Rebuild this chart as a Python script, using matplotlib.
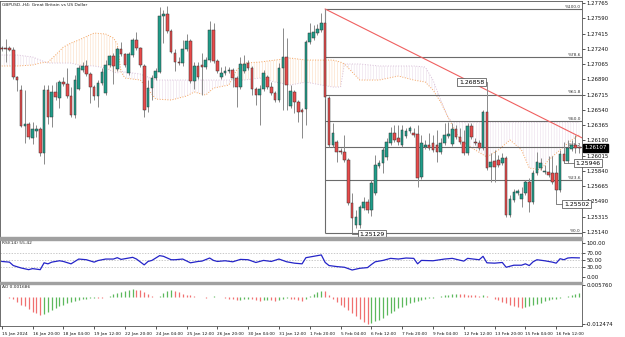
import numpy as np
import matplotlib.pyplot as plt
from matplotlib.patches import Rectangle
from matplotlib.transforms import blended_transform_factory

# GBPUSD H4 candles, prices in points (1 pt = 0.00001)
opens = [127249, 127249, 127249, 127226, 126917, 126768, 126355, 126378, 126218, 126298,
         126321, 126046, 126768, 126458, 126745, 126676, 126859, 126836, 126699, 126481,
         126779, 126997, 127043, 126951, 126802, 126699, 126848, 126733, 127054, 127157,
         127008, 127237, 127180, 126962, 127169, 127341, 127249, 127043, 126573, 126790,
         126905, 126974, 127616, 127639, 127444, 127192, 127088, 127077, 127237, 127329,
         126871, 127043, 127054, 127031, 127111, 127455, 127100, 126917, 126962, 126985,
         126997, 126905, 126802, 126985, 127077, 127020, 126779, 126710, 126779, 126917,
         126802, 126733, 126653, 127020, 127146, 126584, 126745, 126630, 126538, 126550,
         127318, 127364, 127421, 127455, 127535, 126676, 126137, 126172, 126069, 126057,
         125965, 125473, 125221, 125221, 125415, 125484, 125392, 125587, 125897, 125931,
         126000, 126160, 126275, 126218, 126137, 126240, 126298, 126275, 126263, 125771,
         126114, 126137, 126160, 126137, 126057, 126160, 126240, 126149, 126321, 126229,
         126172, 126046, 126355, 126172, 126160, 126103, 126515, 125885, 125954, 125965,
         125931, 125988, 125335, 125507, 125587, 125518, 125587, 125713, 125484, 125816,
         125874, 125828, 125828, 125816, 125816, 125622, 126034, 125954, 126091, 126137, 126114]
highs = [127272, 127352, 127272, 127260, 126928, 126825, 126768, 126401, 126401, 126366,
         126344, 126825, 126825, 126825, 126859, 126882, 126917, 127020, 126802, 126940,
         127054, 127088, 127111, 126974, 126825, 126882, 127020, 127111, 127169, 127192,
         127260, 127318, 127192, 127203, 127364, 127432, 127260, 127066, 126882, 126940,
         127020, 127719, 127684, 127730, 127467, 127237, 127146, 127341, 127409, 127352,
         127088, 127088, 127192, 127146, 127558, 127535, 127123, 127031, 127043, 127031,
         127020, 126928, 127146, 127169, 127111, 127043, 126802, 126825, 126997, 126940,
         126859, 126756, 127077, 127478, 127364, 126825, 126768, 126653, 126561, 127341,
         127535, 127512, 127524, 127650, 127696, 126699, 126389, 126195, 126103, 126252,
         125988, 125587, 125392, 125450, 125541, 125518, 125736, 126023, 125965, 126114,
         126218, 126344, 126366, 126366, 126366, 126332, 126355, 126332, 126366, 126252,
         126195, 126275, 126252, 126309, 126218, 126389, 126401, 126389, 126366, 126332,
         126309, 126389, 126389, 126218, 126195, 126538, 126858, 126046, 126080, 126023,
         126046, 126011, 125564, 125633, 125633, 125656, 125736, 125759, 125851, 126057,
         125988, 125908, 126011, 126011, 125908, 126080, 126172, 126195, 126195, 126252, 126126]
lows = [127215, 127088, 127215, 126894, 126756, 126344, 126160, 126206, 126149, 126229,
        126011, 125920, 126378, 126344, 126653, 126561, 126813, 126676, 126458, 126447,
        126768, 126974, 126928, 126619, 126653, 126573, 126825, 126710, 127031, 126836,
        126985, 127157, 127031, 126940, 127146, 127226, 127031, 126458, 126515, 126653,
        126882, 126962, 127306, 127421, 127192, 126985, 127054, 127043, 127215, 126848,
        126779, 126894, 126710, 127008, 127088, 127077, 126962, 126894, 126940, 126962,
        126802, 126573, 126779, 126962, 126997, 126710, 126596, 126366, 126756, 126779,
        126710, 126630, 126630, 126538, 126538, 126561, 126504, 126401, 126218, 126366,
        127295, 127341, 127398, 127432, 126664, 126114, 126114, 125943, 126034, 125943,
        125450, 125129, 125186, 125186, 125392, 125358, 125324, 125564, 125874, 125816,
        125965, 126137, 126172, 126137, 126114, 126218, 126275, 126229, 125656, 125748,
        126091, 126080, 126057, 125943, 126034, 126137, 126218, 126126, 126206, 126149,
        126023, 126023, 126206, 126137, 126080, 126080, 125851, 125713, 125713, 125885,
        125908, 125312, 125312, 125484, 125564, 125427, 125564, 125370, 125461, 125794,
        125851, 125805, 125771, 125690, 125502, 125599, 125946, 125931, 126069, 126046, 126046]
closes = [127237, 127237, 127226, 126917, 126882, 126355, 126378, 126229, 126321, 126321,
          126046, 126768, 126458, 126745, 126687, 126859, 126836, 126699, 126481, 126882,
          127020, 127043, 126951, 126802, 126699, 126848, 126974, 127054, 127157, 127043,
          127237, 127180, 127054, 127180, 127341, 127249, 127054, 126538, 126790, 126905,
          126985, 127616, 127639, 127444, 127203, 127088, 127077, 127237, 127329, 126871,
          127043, 126917, 127031, 127111, 127455, 127100, 126985, 126962, 126985, 126997,
          126905, 126802, 127066, 127066, 127020, 126779, 126710, 126779, 126962, 126802,
          126733, 126653, 127020, 127146, 126825, 126756, 126630, 126515, 126515, 127318,
          127421, 127432, 127467, 127535, 126687, 126137, 126275, 126057, 126057, 125965,
          125473, 125301, 125312, 125427, 125484, 125392, 125702, 125908, 125931, 126080,
          126172, 126275, 126195, 126172, 126309, 126298, 126332, 126252, 125759, 126160,
          126137, 126103, 126080, 126057, 126160, 126252, 126263, 126321, 126229, 126172,
          126046, 126355, 126229, 126160, 126103, 126515, 125874, 125943, 125885, 125908,
          125988, 125335, 125518, 125599, 125610, 125576, 125713, 125484, 125816, 125943,
          125931, 125839, 125794, 125713, 125622, 126034, 125954, 126103, 126137, 126103, 126107]

time_labels = ['15 Jan 2024', '16 Jan 20:00', '18 Jan 04:00', '19 Jan 12:00', '22 Jan 20:00',
               '24 Jan 04:00', '25 Jan 12:00', '26 Jan 20:00', '30 Jan 04:00', '31 Jan 12:00',
               '1 Feb 20:00', '5 Feb 04:00', '6 Feb 12:00', '7 Feb 20:00', '9 Feb 04:00',
               '12 Feb 12:00', '13 Feb 20:00', '15 Feb 04:00', '16 Feb 12:00']
price_ticks = [1.27765 - 0.00175 * k for k in range(16)]

# ichimoku cloud edges (points)
cloud_idx = [0, 4, 8, 10, 12, 14, 16, 18, 20, 24, 27, 29, 30, 31, 32, 36, 40, 44, 48, 50,
             53, 55, 59, 61, 63, 67, 71, 75, 79, 83, 86, 88, 89, 91, 93, 98, 103, 107, 110, 112,
             114, 116, 117, 119, 123, 126, 129, 132, 135, 137, 140, 142, 145, 148, 150]
span_a = [127043, 127043, 127054, 127077, 127088, 127169, 127260, 127306, 127341, 127421,
          127409, 127364, 127295, 126974, 126905, 126882, 126664, 126653, 126699, 126745,
          126710, 126790, 126825, 126997, 127077, 127088, 127111, 127134, 127111, 127111,
          127111, 127088, 127066, 126974, 126882, 126882, 126928, 126882, 126859, 126768,
          126630, 126447, 126366, 126195, 126080, 126000, 126080, 126195, 126080, 125874,
          125851, 125965, 126080, 126195, 126252]
span_b = [127169, 127169, 127146, 127111, 127077, 127077, 127077, 127077, 127054, 127043,
          127020, 126974, 126962, 126985, 126974, 126951, 126882, 126882, 126882, 126882,
          126882, 126882, 126882, 126882, 126882, 126905, 126859, 126825, 126859, 126825,
          126802, 126802, 127066, 127066, 127066, 127043, 127043, 127043, 127031, 126882,
          126653, 126447, 126401, 126401, 126401, 126401, 126401, 126401, 126401, 126401,
          126401, 126401, 126401, 126401, 126401]

rsi_idx = [0, 2, 3, 5, 7, 8, 10, 11, 12, 13, 15, 16, 18, 20, 22, 24, 25, 27, 29, 30,
           31, 34, 35, 37, 38, 39, 41, 42, 44, 45, 47, 49, 51, 52, 54, 55, 56, 58, 60, 62,
           64, 66, 68, 70, 72, 74, 76, 78, 79, 81, 83, 84, 85, 87, 89, 90, 91, 93, 95, 96,
           97, 99, 101, 103, 105, 107, 108, 109, 112, 115, 117, 120, 121, 124, 125, 126, 128, 130, 131, 133,
           135, 136, 137, 138, 139, 141, 143, 144, 145, 146, 147, 148, 150]
rsi_vals = [45, 43, 33, 26, 21, 24, 21, 41, 38, 43, 47, 45, 38, 52, 50, 43, 47.6, 52, 52, 56,
            51, 57, 52, 35, 45, 48, 62, 60, 50, 50, 52, 41, 45, 46, 55, 48, 45, 47, 44, 51,
            50, 42, 48, 45, 52, 44, 40, 38, 56, 60, 64, 42, 33, 30, 28, 24, 20, 25, 27, 36,
            44, 48, 54, 52, 55, 54, 38, 48, 47, 52, 54, 46, 54, 50, 60, 41, 40, 42, 28, 34,
            34, 38, 33, 44, 50, 47, 43, 40, 53, 50, 55, 56, 55.42]

ao_vals = [0.0002, 0.0, -0.0003, -0.0009, -0.0023, -0.0035, -0.0042, -0.0057, -0.0071, -0.0076,
           -0.0081, -0.0078, -0.0071, -0.0061, -0.0050, -0.0042, -0.0035, -0.0029, -0.0023, -0.0017,
           -0.0015, -0.0011, -0.0009, -0.0006, -0.0003, -0.0004, -0.0005, 0.0002, 0.0004, 0.0013,
           0.0019, 0.0023, 0.0028, 0.0030, 0.0035, 0.0034, 0.0030, 0.0023, 0.0013, 0.0006,
           0.0002, 0.0006, 0.0019, 0.0029, 0.0033, 0.0028, 0.0023, 0.0016, 0.0011, 0.0009,
           0.0005, 0.0002, -0.0001, -0.0003, 0.0002, 0.0003, 0.0001, -0.0002, -0.0005, -0.0009,
           -0.0011, -0.0016, -0.0014, -0.0011, -0.0010, -0.0011, -0.0015, -0.0017, -0.0014, -0.0013,
           -0.0015, -0.0017, -0.0013, -0.0007, -0.0005, -0.0007, -0.0010, -0.0014, -0.0017, -0.0007,
           0.0004, 0.0013, 0.0022, 0.0029, 0.0026, 0.0010, -0.0007, -0.0022, -0.0035, -0.0046,
           -0.0060, -0.0074, -0.0088, -0.0101, -0.0114, -0.012474, -0.0121, -0.0113, -0.0105, -0.0095,
           -0.0085, -0.0074, -0.0063, -0.0053, -0.0044, -0.0035, -0.0027, -0.0021, -0.0017, -0.0012,
           -0.0008, -0.0005, -0.0003, 0.0002, 0.0005, 0.0009, 0.0011, 0.0014, 0.0016, 0.0015,
           0.0013, 0.0011, 0.0009, 0.0007, 0.0006, 0.0008, 0.0005, 0.0000, -0.0007, -0.0014,
           -0.0021, -0.0030, -0.0037, -0.0043, -0.0047, -0.0049, -0.0046, -0.0042, -0.0037, -0.0031,
           -0.0026, -0.0020, -0.0015, -0.0011, -0.0007, -0.0003, 0.0001, 0.0005, 0.0009, 0.0013,
           0.001686]

fib_ratios = [1.0, 0.786, 0.618, 0.5, 0.382, 0.236, 0.0]
fib_names = ['%100.0', '%78.6', '%61.8', '%50.0', '%38.2', '%23.6', '%0.0']
fib_start, fib_hi_bar, fib_lo_bar = 84, 84, 91
trend_x = [84, 150]
trend_y = [1.27696, 1.26235]

plt.rcParams['hatch.linewidth'] = 0.4

TEAL = '#1f9d8a'
RED = '#e84a4a'
EDGE = '#333333'
GRID = '#6b6b6b'

W, H = 625, 337
fig = plt.figure(figsize=(W / 100, H / 100), dpi=100)


def px_axes(left, top, right, bottom, **kw):
    return fig.add_axes([left / W, 1 - bottom / H, (right - left) / W, (bottom - top) / H], **kw)


ax = px_axes(0, 1, 582, 237)
ax_rsi = px_axes(0, 240, 582, 282, sharex=ax)
ax_ao = px_axes(0, 284, 582, 326, sharex=ax)

n = len(opens)
x = np.arange(n)
o, h, l, c = (np.array(v) / 1e5 for v in (opens, highs, lows, closes))
up = c >= o
xr = 150.7

# ---- main price panel ----
ca = np.array(span_a) / 1e5
cb = np.array(span_b) / 1e5
ax.fill_between(cloud_idx, ca, cb, where=ca >= cb, interpolate=True, facecolor='none',
                edgecolor='#f4a460', hatch='||||||', linewidth=0, alpha=0.4, zorder=1)
ax.fill_between(cloud_idx, ca, cb, where=ca < cb, interpolate=True, facecolor='none',
                edgecolor='#d8bfd8', hatch='||||||', linewidth=0, alpha=0.55, zorder=1)
ax.plot(cloud_idx, ca, color='#f4a460', ls=':', lw=0.7, zorder=1)
ax.plot(cloud_idx, cb, color='#d8bfd8', ls=':', lw=0.7, zorder=1)

# fibonacci retracement
f_hi = h[fib_hi_bar]
f_lo = l[fib_lo_bar]
for r, name in zip(fib_ratios, fib_names):
    lvl = f_lo + r * (f_hi - f_lo)
    ax.hlines(lvl, fib_start, xr, color=GRID, lw=0.8, zorder=2)
    ax.text(150.4, lvl + 0.00004, name, ha='right', va='bottom', fontsize=3.1, color='#333333')
ax.vlines(fib_start, f_lo, f_hi, color=GRID, lw=0.8, zorder=2)

# trend line (ray to the right)
slope = (trend_y[1] - trend_y[0]) / (trend_x[1] - trend_x[0])
ax.plot([trend_x[0], xr], [trend_y[0], trend_y[0] + slope * (xr - trend_x[0])],
        color='#f06060', lw=0.8, zorder=2)

# candles
ax.vlines(x, l, h, color='#8a8a8a', lw=0.7, zorder=3)
body = np.maximum(np.abs(c - o), 0.00002)
ax.bar(x, body, bottom=np.minimum(o, c), width=0.68, color=np.where(up, TEAL, RED),
       edgecolor=EDGE, linewidth=0.35, zorder=4)

# swing price labels
box = dict(boxstyle='square,pad=0.25', fc='white', ec='#444444', lw=0.5)
ax.hlines(h[126], 125.3, 126, color=GRID, lw=0.6, zorder=3)
ax.text(125.3, h[126], f'{h[126]:.5f}', ha='right', va='center', fontsize=4.4, bbox=box, zorder=6)

for bar, drop, gap in [(91, 0.00017, 1.7), (144, 0.00041, 1.8), (146, 0.00015, 2.8)]:
    yb = l[bar] - drop
    ax.plot([bar, bar, bar + gap], [l[bar], yb, yb], color=GRID, lw=0.6, zorder=3)
    ax.text(bar + gap + 0.2, yb, f'{l[bar]:.5f}', ha='left', va='center', fontsize=4.4,
            bbox=box, zorder=6, clip_on=False)

ax.text(0.004, 0.993, 'GBPUSD.,H4: Great Britain vs US Dollar', transform=ax.transAxes,
        ha='left', va='top', fontsize=3.2, color='#222222')

ax.set_xlim(-0.45, xr)
ax.set_ylim(1.25083, 1.27788)
ax.yaxis.tick_right()
ax.set_yticks(price_ticks)
ax.set_yticklabels([f'{p:.5f}' for p in price_ticks])

# last price tag
tr = blended_transform_factory(ax.transAxes, ax.transData)
ax.text(1.004, c[-1], f'{c[-1]:.5f}', transform=tr, ha='left', va='center', fontsize=3.9,
        color='white', bbox=dict(boxstyle='square,pad=0.3', fc='black', ec='black'), zorder=7)

# ---- RSI panel ----
for lv in (70, 50, 30):
    ax_rsi.axhline(lv, color='#b4b4b4', lw=0.5, ls=(0, (2, 2)))
ax_rsi.plot(rsi_idx, rsi_vals, color='#2424c8', lw=0.9)
ax_rsi.set_ylim(-15.1, 107.7)
ax_rsi.yaxis.tick_right()
ax_rsi.set_yticks([100, 70, 50, 30, 0])
ax_rsi.set_yticklabels(['100.00', '70.00', '50.00', '30.00', '0.00'])
ax_rsi.text(0.004, 0.97, 'RSI(14) 55.42', transform=ax_rsi.transAxes, ha='left', va='top',
            fontsize=3.2, color='#222222')

# ---- AO panel ----
ao = np.array(ao_vals)
ao_col = ['#5cb85c' if i == 0 or ao[i] > ao[i - 1] else '#f07070' for i in range(n)]
ax_ao.vlines(x, 0, ao, colors=ao_col, lw=0.9)
ax_ao.set_ylim(-0.0134, 0.0060)
ax_ao.yaxis.tick_right()
ax_ao.set_yticks([0.005760, -0.012474])
ax_ao.set_yticklabels(['0.005760', '-0.012474'])
ax_ao.text(0.004, 0.97, 'AO 0.001686', transform=ax_ao.transAxes, ha='left', va='top',
           fontsize=3.2, color='#222222')

ax_ao.set_xticks(np.arange(0, 145, 8))
ax_ao.set_xticklabels(time_labels, ha='left', fontsize=3.1)

for a in (ax, ax_rsi, ax_ao):
    a.tick_params(axis='y', labelsize=3.9, length=2, width=0.5, pad=1, colors='#111111')
    for s in a.spines.values():
        s.set_color('#555555')
        s.set_linewidth(0.6)
for a in (ax, ax_rsi):
    a.tick_params(axis='x', bottom=False, labelbottom=False)
ax_ao.tick_params(axis='x', length=2.5, width=0.5, pad=1.5, colors='#111111')

# panel separators
for top, hgt in [(237, 3), (282, 2)]:
    fig.patches.append(Rectangle((0, 1 - (top + hgt) / H), 582 / W, hgt / H,
                                 transform=fig.transFigure, color='#a0a0a0', zorder=0))

fig.savefig('out.png', dpi=100)
